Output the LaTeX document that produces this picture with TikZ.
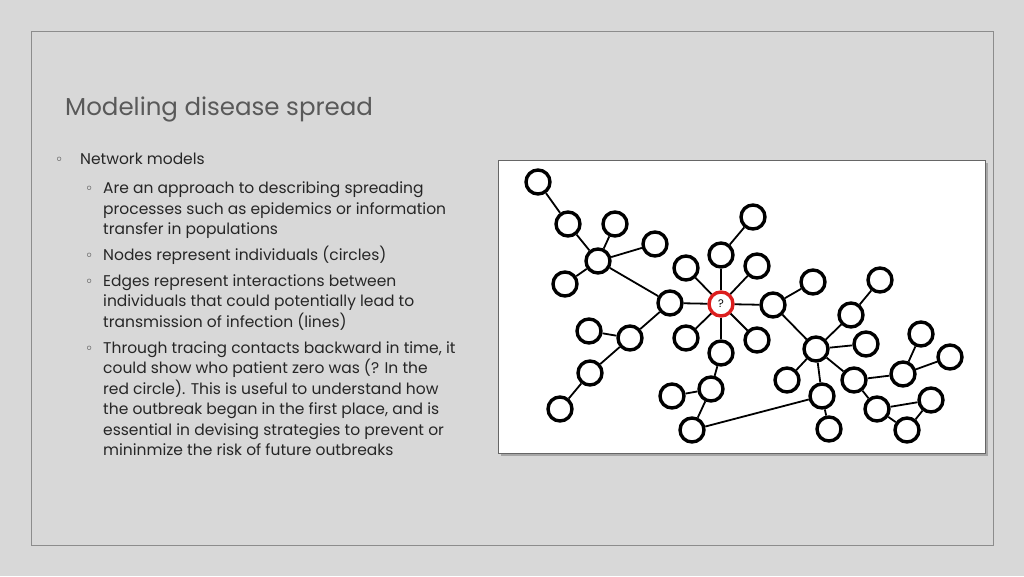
\documentclass[tikz,border=0pt]{standalone}
\usepackage{fontspec}
\setmainfont{Poppins}
\newfontfamily\symfont{DejaVu Sans}
\usetikzlibrary{positioning}
\definecolor{slidegray}{RGB}{216,216,216}
\definecolor{titlegray}{RGB}{89,89,89}
\definecolor{qred}{RGB}{220,30,30}
\tikzset{
  pt/.style={circle,draw,line width=3.4pt,minimum size=24pt,inner sep=0pt,fill=white},
  ln/.style={anchor=mid west,inner sep=0pt,font=\fontsize{15.5}{17}\selectfont,text=black!85},
  bul/.style={anchor=mid west,inner sep=0pt,font=\symfont\fontsize{14}{15}\selectfont,text=black!85}
}
\begin{document}
\begin{tikzpicture}[x=1pt,y=-1pt]
\useasboundingbox (0,0) rectangle (1024,576);
\fill[slidegray] (0,0) rectangle (1024,576);
\draw[black!45,line width=0.6pt] (31,31) rectangle (993,545);
% title
\node[anchor=mid west,inner sep=0pt,font=\fontsize{24.5}{28}\selectfont,text=titlegray] (title) at (65,113) {Modeling disease spread};
% text
\node[bul] (b0) at (55,162) {◦};
\node[ln] (t0) at (80,162) {Network models};
\foreach \y/\b/\t in {191/1/Are an approach to describing spreading,
  212/0/processes such as epidemics or information,
  232/0/transfer in populations,
  258/1/Nodes represent individuals (circles),
  284/1/Edges represent interactions between,
  304/0/individuals that could potentially lead to,
  325/0/transmission of infection (lines),
  351/1/{Through tracing contacts backward in time, it},
  371/0/could show who patient zero was (? In the,
  392/0/red circle).  This is useful to understand how,
  412/0/{the outbreak began in the first place, and is},
  433/0/essential in devising strategies to prevent or,
  453/0/mininmize the risk of future outbreaks}{
  \node[ln] at (103,\y) {\t};
  \ifnum\b=1 \node[bul] at (85,\y) {◦}; \fi
}
% picture frame
\fill[black!35] (501,163) rectangle (988,456);
\draw[black!60,fill=white,line width=0.6pt] (498,160) rectangle (985,453);
% network
\foreach \n/\x/\y in {a1/538/182,a2/568/224,a3/615/224,a4/598/261,a5/655/244,a6/565/284,
  h1/670/303,c1/721/255,c2/686/268,c3/757/266,t1/753/217,c4/686/338,c5/757/340,d1/721/353,
  r1/773/305,r2/813/282,l1/630/338,l0/589/331,l2/590/373,l3/560/409,
  d2/711/389,d3/672/396,d4/692/430,m/816/349,m1/851/315,m2/880/280,m3/866/344,
  m4/787/380,m5/822/396,m6/829/429,n/854/380,n1/903/374,n2/921/334,n3/950/357,
  n4/877/409,n5/931/400,n6/907/430}
  \node[pt] (\n) at (\x,\y) {};
\node[pt,draw=qred,font=\fontsize{11}{11}\selectfont] (Z) at (721,304) {?};
\foreach \u/\v in {a1/a2,a2/a4,a3/a4,a5/a4,a6/a4,a4/h1,h1/Z,h1/l1,l0/l1,l1/l2,l2/l3,
  Z/c1,Z/c2,Z/c3,c1/t1,Z/c4,Z/c5,Z/d1,Z/r1,d1/d2,d2/d3,d2/d4,d4/m5,r1/r2,r1/m,
  m/m1,m1/m2,m/m3,m/m4,m/m5,m5/m6,m/n,n/n1,n1/n2,n1/n3,n/n4,n4/n5,n5/n6,n4/n6}
  \draw[line width=1.8pt] (\u) -- (\v);
\end{tikzpicture}
\end{document}
